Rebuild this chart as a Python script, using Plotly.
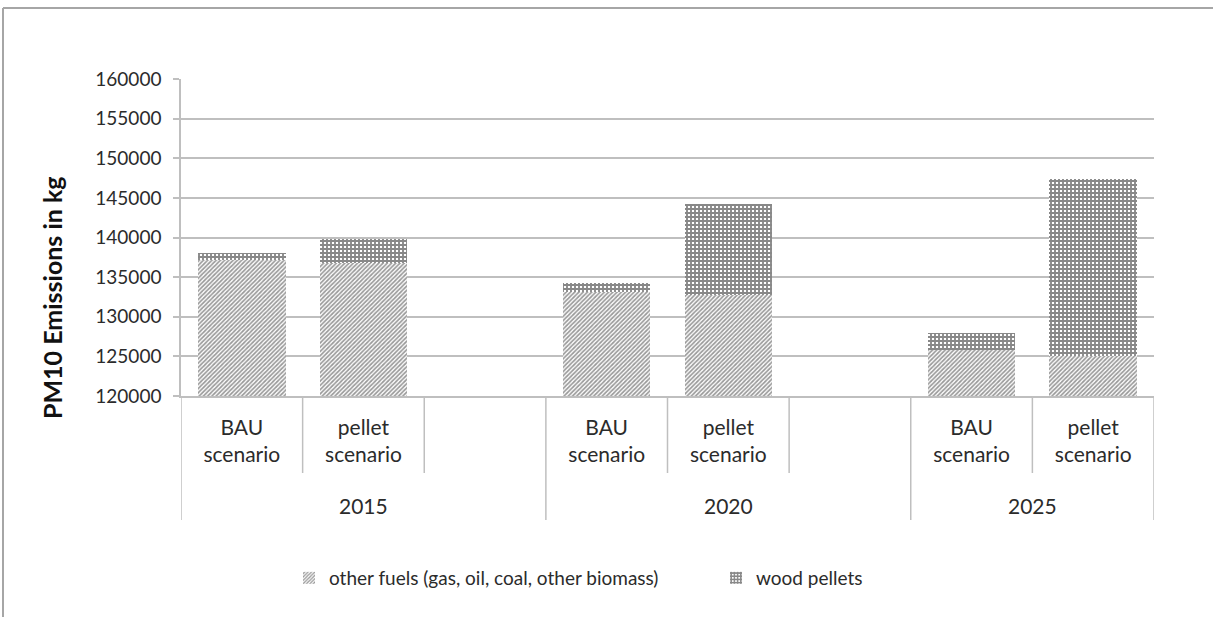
import plotly.graph_objects as go

# PM10 emissions by year and scenario (kg)
years = ["2015", "2020", "2025"]
scenarios = ["BAU scenario", "pellet scenario"]
other_fuels = [137100, 136800, 133100, 132700, 125800, 125100]
wood_pellets = [900, 3000, 1100, 11500, 2200, 22300]
y_ticks = [120000, 125000, 130000, 135000, 140000, 145000, 150000, 155000, 160000]

# category slots: two scenarios per year, with an empty slot after 2015 and 2020
slots = []
slot_labels = []
bar_x = []
group_sizes = []
for i, yr in enumerate(years):
    size = 0
    for sc in scenarios:
        key = f"{yr} {sc}"
        slots.append(key)
        slot_labels.append(sc.replace(" ", "<br>"))
        bar_x.append(key)
        size += 1
    if i < len(years) - 1:
        slots.append(f"{yr} gap")
        slot_labels.append("")
        size += 1
    group_sizes.append(size)

W, H = 1213, 617
ML, MR, MT, MB = 181, 59, 79, 221
PW, PH = W - ML - MR, H - MT - MB
FONT = "Lato"
TXT = "#2b2b2b"
LINE = "#bfbfbf"


def px_x(p):
    return (p - ML) / PW


def px_y(p):
    return (H - MB - p) / PH


fig = go.Figure()
fig.add_trace(go.Bar(
    x=bar_x, y=other_fuels, name="other fuels (gas, oil, coal, other biomass)",
    marker=dict(color="white", line=dict(width=0),
                pattern=dict(shape="/", size=3, solidity=0.55,
                             fgcolor="#333333", bgcolor="white")),
))
fig.add_trace(go.Bar(
    x=bar_x, y=wood_pellets, name="wood pellets",
    marker=dict(color="white", line=dict(width=0),
                pattern=dict(shape="+", size=4, solidity=0.72,
                             fgcolor="#111111", bgcolor="white")),
))

# category boundary lines below the axis: long at year groups, short between scenarios
shapes = []
n = len(slots)
group_edges = [-0.5]
for g in group_sizes:
    group_edges.append(group_edges[-1] + g)
for b in [k - 0.5 for k in range(n + 1)]:
    long = b in group_edges
    shapes.append(dict(type="line", xref="x", yref="paper", x0=b, x1=b,
                       y0=0, y1=px_y(520 if long else 473),
                       line=dict(color=LINE, width=1.5)))
# outer chart frame (top and left edges)
shapes.append(dict(type="line", xref="paper", yref="paper",
                   x0=px_x(3), x1=px_x(W + 5), y0=px_y(8), y1=px_y(8),
                   line=dict(color="#a6a6a6", width=2)))
shapes.append(dict(type="line", xref="paper", yref="paper",
                   x0=px_x(3), x1=px_x(3), y0=px_y(8), y1=px_y(H + 5),
                   line=dict(color="#a6a6a6", width=2)))

# year labels centred under each group
annotations = []
for i, yr in enumerate(years):
    centre = (group_edges[i] + group_edges[i + 1]) / 2
    annotations.append(dict(text=yr, x=centre, xref="x", yref="paper",
                            y=px_y(505), yanchor="middle", showarrow=False,
                            font=dict(family=FONT, size=21, color=TXT)))
annotations.append(dict(text="<b>PM10 Emissions in kg</b>", textangle=-90,
                        x=px_x(52), y=px_y(298), xref="paper", yref="paper",
                        xanchor="center", yanchor="middle", showarrow=False,
                        font=dict(family=FONT, size=25, color="#111111")))

fig.update_layout(
    width=W, height=H,
    margin=dict(l=ML, r=MR, t=MT, b=MB),
    paper_bgcolor="white", plot_bgcolor="white",
    barmode="stack", bargap=0.28,
    font=dict(family=FONT, size=19, color=TXT),
    shapes=shapes, annotations=annotations,
    legend=dict(orientation="h", x=px_x(289), y=px_y(578),
                xanchor="left", yanchor="middle",
                font=dict(family=FONT, size=19, color=TXT),
                entrywidth=382, entrywidthmode="pixels", traceorder="normal"),
    xaxis=dict(type="category", categoryorder="array", categoryarray=slots,
               range=[-0.5, n - 0.5], tickvals=slots, ticktext=slot_labels,
               ticks="", showgrid=False, showline=True, linecolor=LINE, linewidth=1.5,
               ticklabelstandoff=12,
               tickfont=dict(family=FONT, size=21, color=TXT), fixedrange=True),
    yaxis=dict(range=[y_ticks[0], y_ticks[-1]], tickvals=y_ticks,
               ticktext=[str(v) for v in y_ticks],
               showgrid=True, gridcolor=LINE, gridwidth=1.5,
               showline=True, linecolor=LINE, linewidth=1.5,
               ticks="outside", ticklen=6, tickcolor=LINE, tickwidth=1.5,
               ticklabelstandoff=8,
               tickfont=dict(family=FONT, size=19, color=TXT), zeroline=False),
    showlegend=True,
)

fig.write_html("out.html")
